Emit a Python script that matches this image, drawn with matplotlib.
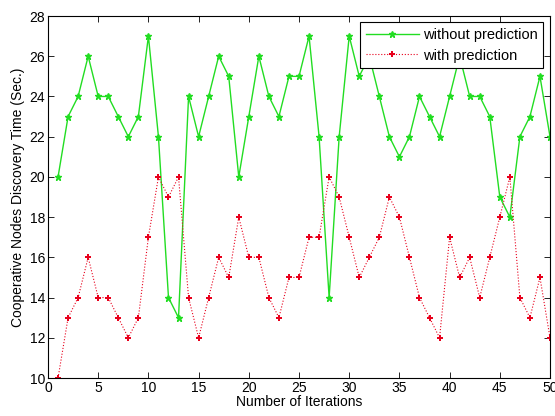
import matplotlib
matplotlib.use('Agg')
import matplotlib.pyplot as plt
import numpy as np

iterations = np.arange(1, 51)
without_prediction = [20, 23, 24, 26, 24, 24, 23, 22, 23, 27,
                      22, 14, 13, 24, 22, 24, 26, 25, 20, 23,
                      26, 24, 23, 25, 25, 27, 22, 14, 22, 27,
                      25, 26, 24, 22, 21, 22, 24, 23, 22, 24,
                      26, 24, 24, 23, 19, 18, 22, 23, 25, 22]
with_prediction = [10, 13, 14, 16, 14, 14, 13, 12, 13, 17,
                   20, 19, 20, 14, 12, 14, 16, 15, 18, 16,
                   16, 14, 13, 15, 15, 17, 17, 20, 19, 17,
                   15, 16, 17, 19, 18, 16, 14, 13, 12, 17,
                   15, 16, 14, 16, 18, 20, 14, 13, 15, 12]

plt.rcParams['font.family'] = ['Liberation Sans', 'DejaVu Sans']
plt.rcParams['font.size'] = 10

fig = plt.figure(figsize=(5.55, 4.16), dpi=100)
ax = fig.add_axes([0.0865, 0.0913, 0.9045, 0.8702])

ax.plot(iterations, without_prediction, '-', color='#22dd22', lw=1.0,
        marker='*', ms=4.5, label='without prediction')
ax.plot(iterations, with_prediction, ':', color='#e8001c', lw=0.8,
        marker='P', ms=4, mew=0, label='with prediction')

ax.set_xlim(0, 50)
ax.set_ylim(10, 28)
ax.set_xticks(np.arange(0, 51, 5))
ax.set_yticks(np.arange(10, 29, 2))
ax.tick_params(direction='in', top=True, right=True, length=4, width=0.6,
               labelsize=10, pad=2)
for s in ax.spines.values():
    s.set_linewidth(0.8)

ax.set_xlabel('Number of Iterations', labelpad=0)
ax.set_ylabel('Cooperative Nodes Discovery Time (Sec.)', labelpad=3)

leg = ax.legend(loc='upper right', bbox_to_anchor=(0.987, 0.983), fancybox=False,
                edgecolor='black', framealpha=1, handlelength=3.6,
                fontsize=10.5, borderpad=0.4, labelspacing=0.45,
                handletextpad=0.3, borderaxespad=0)
leg.get_frame().set_linewidth(0.8)

fig.savefig('out.png', dpi=100)
